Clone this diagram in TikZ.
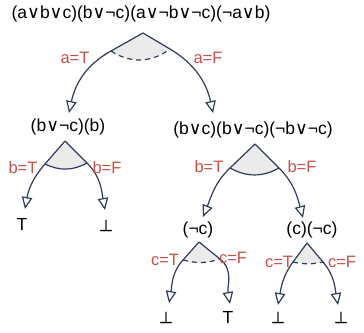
\documentclass[tikz,border=0pt]{standalone}
\usepackage{fontspec}
\setmainfont{Liberation Sans}
\newfontfamily\symfont{DejaVu Sans}
\newfontfamily\botfont[FakeBold=1.2,Scale=0.9]{DejaVu Sans}
\usepackage{tikz}
\usetikzlibrary{arrows.meta,positioning}
\definecolor{TreeNavy}{HTML}{2F3B5A}
\definecolor{TreeRed}{HTML}{C6504A}
\definecolor{TreeGray}{HTML}{EBEBEB}
\newcommand{\falsum}{{\botfont ⊥}}
\newcommand{\vor}{{\symfont ∨}}

\begin{document}
\begin{tikzpicture}[x=1pt, y=1pt, every node/.style={font=\fontsize{17.5}{20}\selectfont, inner sep=0pt}, lab/.style={text=TreeRed, font=\fontsize{16.5}{18}\selectfont}, arrow/.style={-{Triangle[open, length=12pt, width=10.5pt]}, line width=1.2pt, color=TreeNavy}, wedge/.style={fill=TreeGray, draw=none}, rim/.style={line width=1.2pt, color=TreeNavy}, cut/.style={rim, dash pattern=on 5pt off 4pt}]
\useasboundingbox (0,0) rectangle (364,-332);
% formulas
\node (f0) at (141,-14) {(a\vor b\vor c)(b\vor¬c)(a\vor¬b\vor¬c)(¬a\vor b)};
\node (f1) at (68,-127) {(b\vor¬c)(b)};
\node (f2) at (253,-130) {(b\vor c)(b\vor¬c)(¬b\vor¬c)};
\node (f3) at (198,-230) {(¬c)};
\node (f4) at (312,-230) {(c)(¬c)};
% leaves
\node (t1) at (22,-224.5) {T};
\node (b1) at (106,-225.5) {\falsum};
\node (b2) at (166,-317.5) {\falsum};
\node (t2) at (228,-317) {T};
\node (b3) at (278,-317.5) {\falsum};
\node (b4) at (341,-317.5) {\falsum};
% split points and arrow ends
\coordinate (a0) at (143,-33); \coordinate (aL) at (111,-51); \coordinate (aR) at (170,-49); \coordinate (aT) at (69,-113); \coordinate (aF) at (213,-113);
\coordinate (p0) at (65,-141); \coordinate (pL) at (45,-164); \coordinate (pR) at (87,-163); \coordinate (pT) at (25,-209); \coordinate (pF) at (105,-210);
\coordinate (q0) at (255,-144); \coordinate (qL) at (230,-168); \coordinate (qR) at (279,-168); \coordinate (qT) at (203,-217); \coordinate (qF) at (303,-218);
\coordinate (r0) at (199,-242); \coordinate (rL) at (183,-260); \coordinate (rR) at (220,-259); \coordinate (rT) at (169,-303); \coordinate (rF) at (230,-304);
\coordinate (s0) at (307,-243); \coordinate (sL) at (293,-262); \coordinate (sR) at (323,-262); \coordinate (sT) at (278,-305); \coordinate (sF) at (338,-305);
% wedges
\fill[wedge] (a0) -- (aL) to[bend right=35] (aR) -- cycle;
\fill[wedge] (p0) -- (pL) to[bend right=27] (pR) -- cycle;
\fill[wedge] (q0) -- (qL) to[bend right=29] (qR) -- cycle;
\fill[wedge] (r0) -- (rL) to[bend right=16] (rR) -- cycle;
\fill[wedge] (s0) -- (sL) to[bend right=12] (sR) -- cycle;
\draw[cut] (aL) to[bend right=35] (aR);
\draw[rim] (pL) to[bend right=27] (pR);
\draw[rim] (qL) to[bend right=29] (qR);
\draw[cut] (rL) to[bend right=16] (rR);
\draw[cut] (sL) to[bend right=12] (sR);
% branches
\draw[arrow] (a0) -- (aL) to[out=209, in=78] (aT);
\draw[arrow] (a0) -- (aR) to[out=329, in=102] (aF);
\draw[arrow] (p0) -- (pL) to[out=229, in=80] (pT);
\draw[arrow] (p0) -- (pR) to[out=315, in=100] (pF);
\draw[arrow] (q0) -- (qL) to[out=224, in=68] (qT);
\draw[arrow] (q0) -- (qR) to[out=315, in=105] (qF);
\draw[arrow] (r0) -- (rL) to[out=228, in=80] (rT);
\draw[arrow] (r0) -- (rR) to[out=321, in=100] (rF);
\draw[arrow] (s0) -- (sL) to[out=234, in=80] (sT);
\draw[arrow] (s0) -- (sR) to[out=310, in=100] (sF);
% assignments
\node[lab] (la1) at (75,-58) {a=T};
\node[lab] (la2) at (208,-58) {a=F};
\node[lab] (lb1) at (23,-168) {b=T};
\node[lab] (lb2) at (107,-168) {b=F};
\node[lab] (lb3) at (209,-167) {b=T};
\node[lab] (lb4) at (302,-167) {b=F};
\node[lab] (lc1) at (165,-260) {c=T};
\node[lab] (lc2) at (233,-258) {c=F};
\node[lab] (lc3) at (279,-262) {c=T};
\node[lab] (lc4) at (342,-262) {c=F};
\end{tikzpicture}
\end{document}
